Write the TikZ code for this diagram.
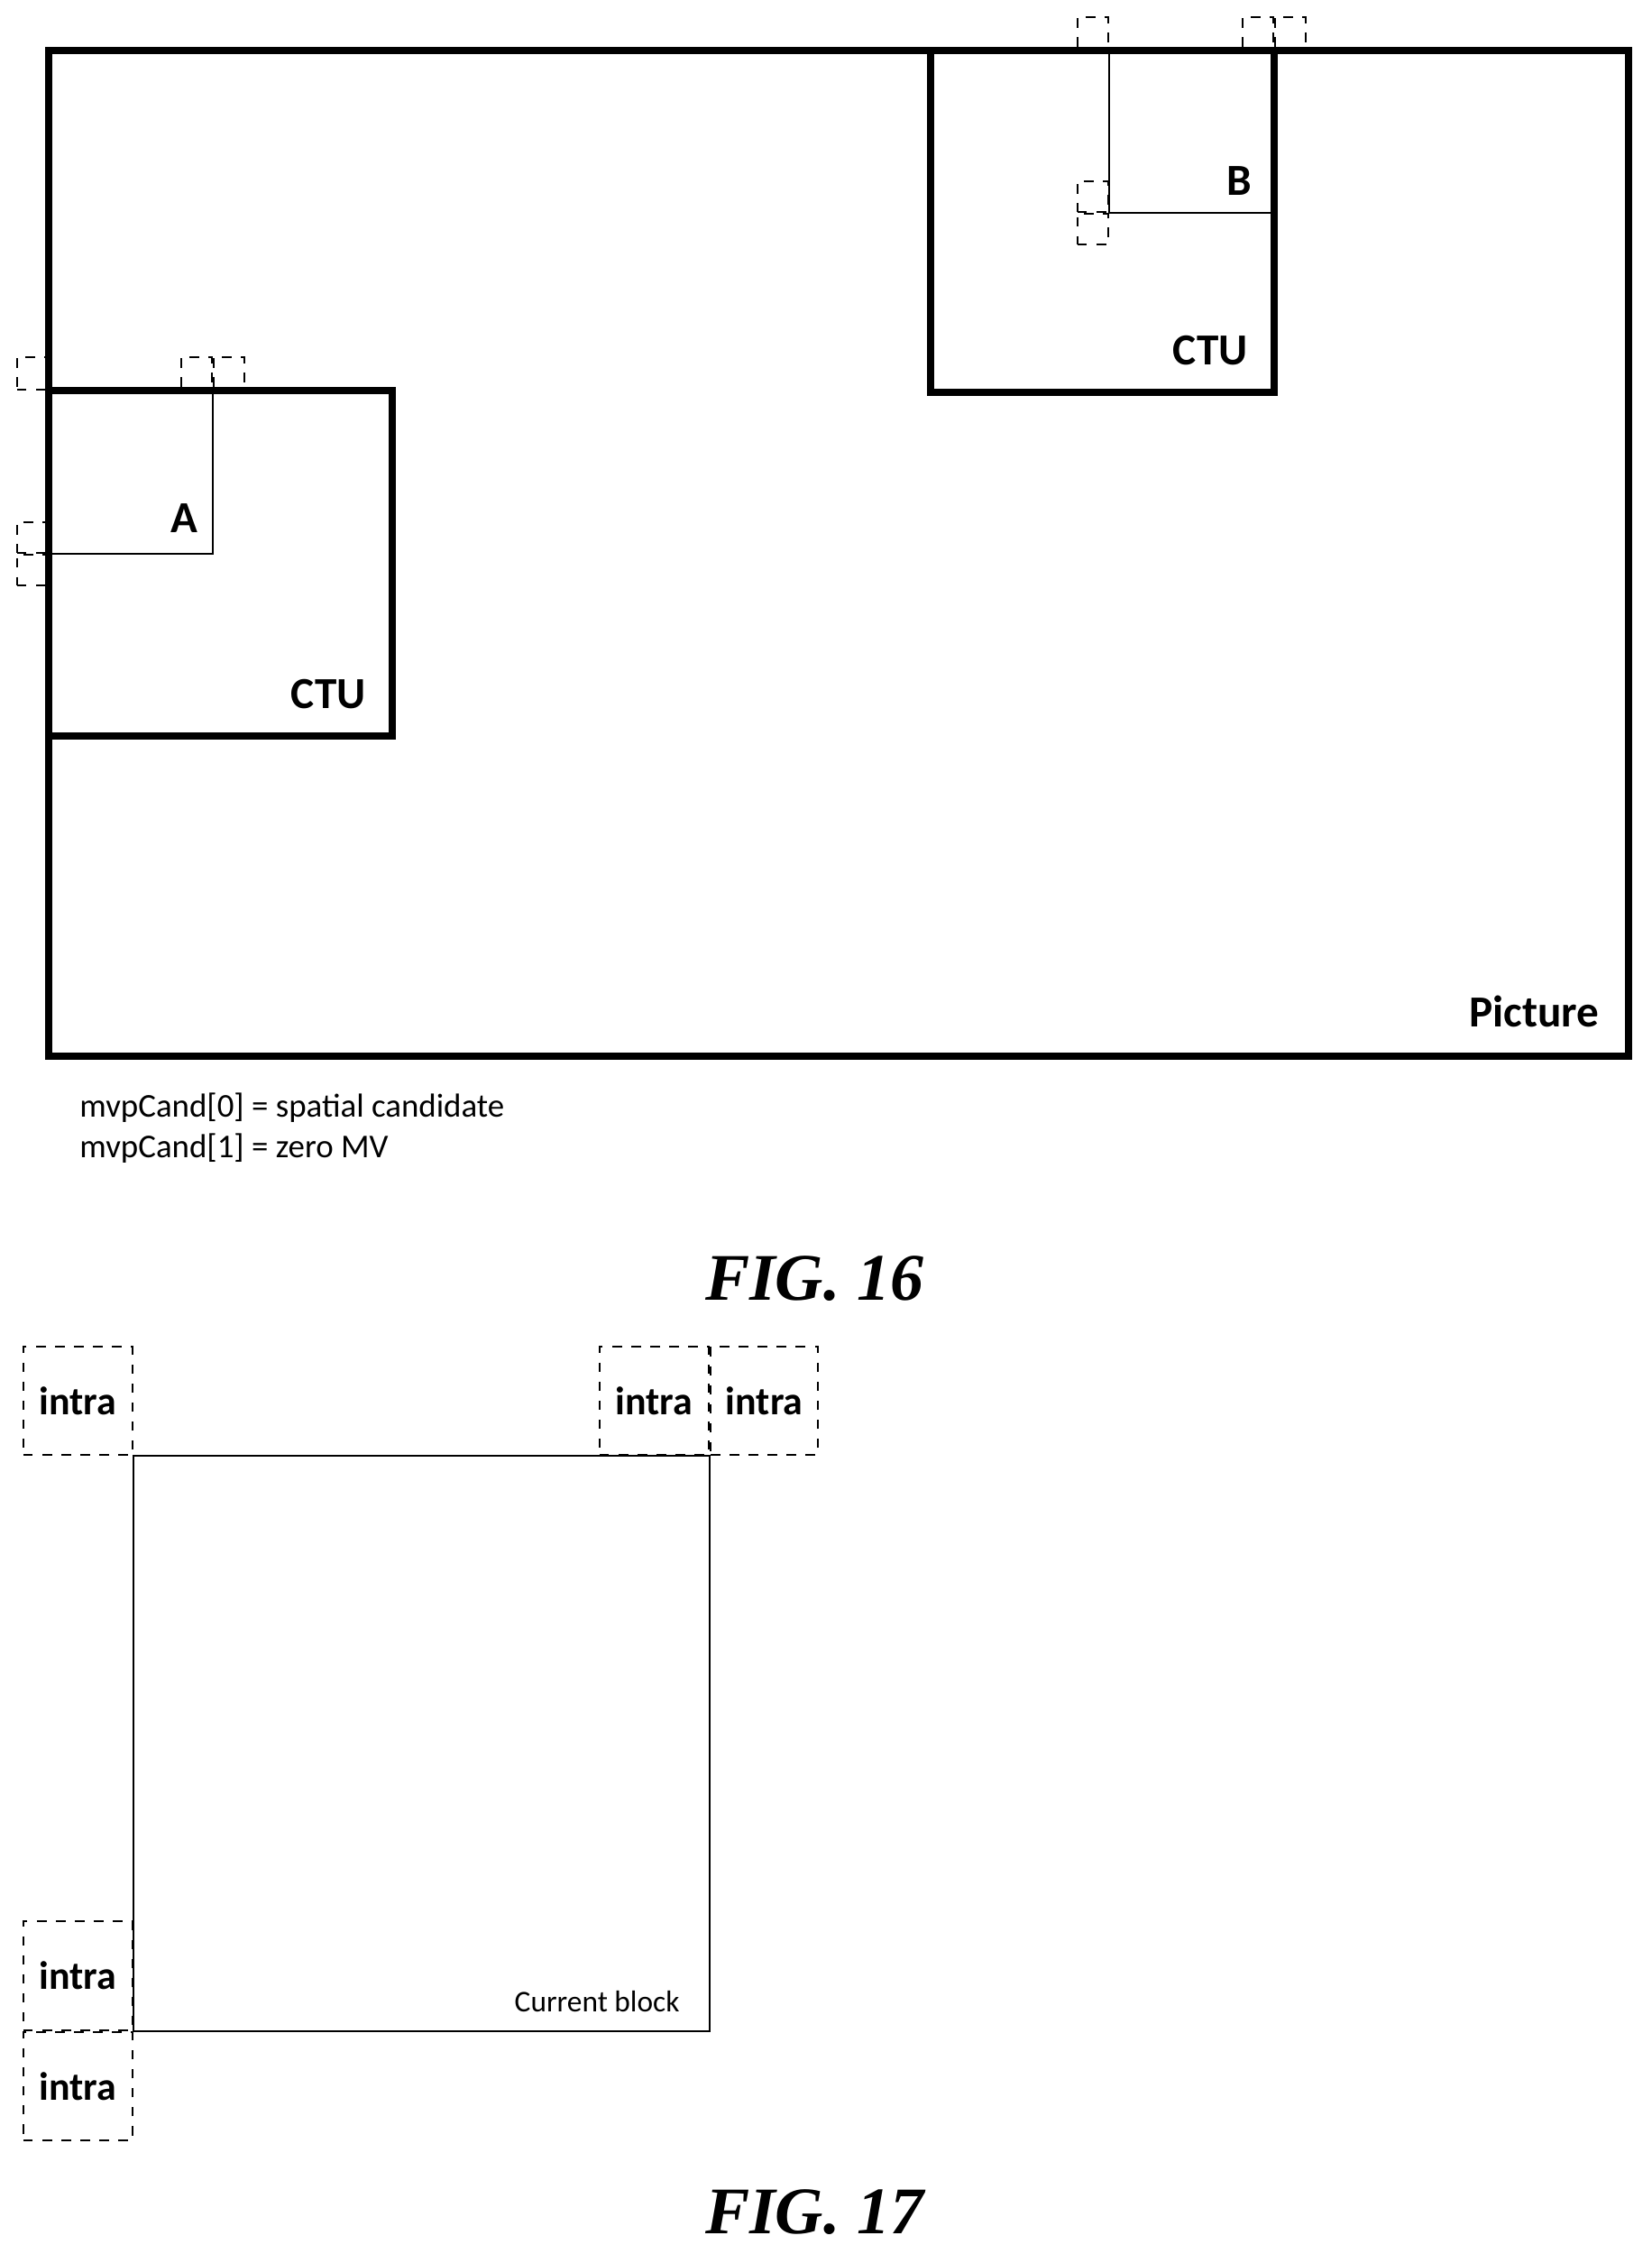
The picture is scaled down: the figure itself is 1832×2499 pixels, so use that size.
\documentclass[tikz,border=0pt]{standalone}
\usepackage{fontspec}
\setmainfont{Carlito}
\newfontfamily\figfont{Liberation Serif}
\usetikzlibrary{positioning}
\begin{document}
\begin{tikzpicture}[x=0.1mm, y=-0.1mm,
    frame/.style={draw, line width=2.3pt},
    thinline/.style={draw, line width=0.6pt},
    cand/.style={draw, dashed, line width=0.6pt, inner sep=0pt},
    big/.style={font=\fontsize{14}{16}\selectfont\bfseries},
    intra/.style={font=\fontsize{12.5}{14}\selectfont\bfseries},
    note/.style={font=\fontsize{10.5}{12}\selectfont},
    figlabel/.style={font=\fontsize{21}{25}\selectfont\figfont\bfseries\itshape}]
  \useasboundingbox (0,0) rectangle (1832,2499);

  % === FIG. 16 ===
  \draw[frame] (54,56) rectangle (1806,1171);
  \node[big, anchor=base east] (pic) at (1786,1138) {Picture};

  % CTU A
  \draw[frame] (54,433) rectangle (435,816);
  \node[big, anchor=base east] (ctua) at (418,785) {CTU};
  \draw[thinline] (54,614) -| (236,433);
  \node[big, anchor=base east] (lbla) at (232,590) {A};
  \node[cand, minimum width=34*0.1mm, minimum height=36*0.1mm, anchor=south east] (a0) at (54,433) {};
  \node[cand, minimum width=34*0.1mm, minimum height=36*0.1mm, anchor=south east] (a1) at (236,433) {};
  \node[cand, minimum width=34*0.1mm, minimum height=36*0.1mm, anchor=south west] (a2) at (236,433) {};
  \node[cand, minimum width=34*0.1mm, minimum height=34*0.1mm, anchor=south east] (a3) at (54,614) {};
  \node[cand, minimum width=34*0.1mm, minimum height=34*0.1mm, anchor=north east] (a4) at (54,614) {};

  % CTU B
  \draw[frame] (1032,56) rectangle (1413,435);
  \node[big, anchor=base east] (ctub) at (1396,404) {CTU};
  \draw[thinline] (1230,56) |- (1413,236);
  \node[big, anchor=base east] (lblb) at (1400,216) {B};
  \node[cand, minimum width=34*0.1mm, minimum height=36*0.1mm, anchor=south east] (b0) at (1230,56) {};
  \node[cand, minimum width=34*0.1mm, minimum height=36*0.1mm, anchor=south east] (b1) at (1413,56) {};
  \node[cand, minimum width=34*0.1mm, minimum height=36*0.1mm, anchor=south west] (b2) at (1413,56) {};
  \node[cand, minimum width=34*0.1mm, minimum height=34*0.1mm, anchor=south east] (b3) at (1230,236) {};
  \node[cand, minimum width=34*0.1mm, minimum height=34*0.1mm, anchor=north east] (b4) at (1230,236) {};

  \node[note, anchor=base west] (mvp0) at (76,1238) {mvpCand[0] = spatial candidate};
  \node[note, anchor=base west] (mvp1) at (76,1283) {mvpCand[1] = zero MV};
  \node[figlabel] (fig16) at (903,1418) {FIG. 16};

  % === FIG. 17 ===
  \draw[thinline] (148,1614) rectangle (787,2252);
  \node[anchor=base east, font=\fontsize{9.5}{11}\selectfont] (cur) at (766,2230) {Current block};
  \node[cand, intra, minimum width=121*0.1mm, minimum height=120*0.1mm, anchor=south east] (c0) at (148,1614) {intra};
  \node[cand, intra, minimum width=121*0.1mm, minimum height=120*0.1mm, anchor=south east] (c1) at (787,1614) {intra};
  \node[cand, intra, minimum width=119*0.1mm, minimum height=120*0.1mm, anchor=south west] (c2) at (787,1614) {intra};
  \node[cand, intra, minimum width=121*0.1mm, minimum height=121*0.1mm, anchor=south east] (c3) at (148,2252) {intra};
  \node[cand, intra, minimum width=121*0.1mm, minimum height=120*0.1mm, anchor=north east] (c4) at (148,2252) {intra};
  \node[figlabel] (fig17) at (903,2453) {FIG. 17};
\end{tikzpicture}
\end{document}
